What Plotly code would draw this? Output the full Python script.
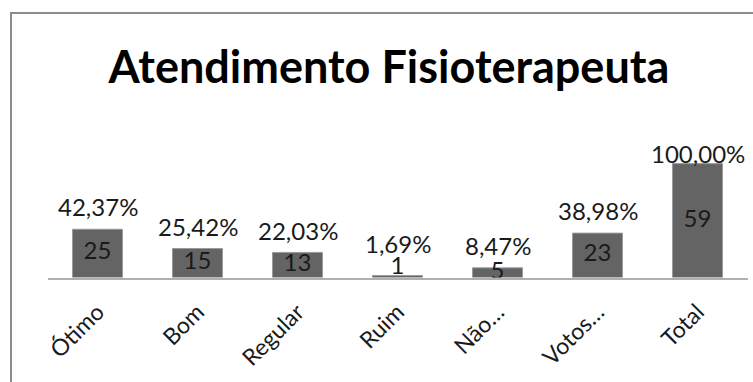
import plotly.graph_objects as go

# Survey results: "Atendimento Fisioterapeuta"
categorias = ["Ótimo", "Bom", "Regular", "Ruim", "Não…", "Votos…", "Total"]
votos = [25, 15, 13, 1, 5, 23, 59]
percentuais = ["42,37%", "25,42%", "22,03%", "1,69%", "8,47%", "38,98%", "100,00%"]

W, H = 753, 382
FONT = "Lato, 'Open Sans', sans-serif"
BAR_COLOR = "#646464"
Y_MAX = 81.6          # top of the value axis
LABEL_PAD = 3.0       # gap between a bar top and its percentage label (data units)
LABEL_CAP = 55.5      # highest position a percentage label may sit at
MIN_INSIDE = 3        # bars lower than this get their count drawn above the bar
COUNT_LIFT = 3.9      # centre of a count drawn above its bar (data units)
COUNT_BLOCK = 5.0     # room taken by a count drawn above its bar (data units)

# plot area in pixels (left, right, bottom, top)
PLOT_L, PLOT_R, PLOT_B, PLOT_T = 47.5, 747.5, 277.5, 120.0
# chart-area frame: left and top edges, in figure pixels
FRAME_X, FRAME_Y = 11, 13

fig = go.Figure()

# frame drawn on a full-figure pixel axis pair
fig.add_trace(go.Scatter(
    x=[FRAME_X, FRAME_X, W], y=[H, FRAME_Y, FRAME_Y],
    mode="lines", line=dict(color="#8c8c8c", width=2),
    xaxis="x2", yaxis="y2", hoverinfo="skip",
))

fig.add_trace(go.Bar(
    x=categorias,
    y=votos,
    marker=dict(color=BAR_COLOR, line=dict(color="#9a9a9a", width=1)),
    hoverinfo="x+y",
))

# vote counts: centred inside each bar, or just above a very short bar
inside = [v >= MIN_INSIDE for v in votos]
fig.add_trace(go.Scatter(
    x=categorias,
    y=[v / 2 if ok else v + COUNT_LIFT for v, ok in zip(votos, inside)],
    mode="text",
    text=[str(v) for v in votos],
    textposition="middle center",
    textfont=dict(family=FONT, size=24, color="#1a1a1a"),
    hoverinfo="skip",
))

# percentage labels above the bars (and above any count drawn outside)
for cat, v, pct, ok in zip(categorias, votos, percentuais, inside):
    base = v + LABEL_PAD + (0 if ok else COUNT_BLOCK)
    fig.add_annotation(
        x=cat, y=min(base, LABEL_CAP),
        text=pct, showarrow=False,
        xanchor="center", yanchor="bottom",
        font=dict(family=FONT, size=24, color="#1a1a1a"),
    )

fig.update_layout(
    width=W, height=H,
    margin=dict(l=0, r=0, t=0, b=0),
    paper_bgcolor="white", plot_bgcolor="rgba(0,0,0,0)",
    showlegend=False,
    bargap=0.5,
    title=dict(
        text="<b>Atendimento Fisioterapeuta</b>",
        x=0.5165, xanchor="center", y=0.825, yanchor="middle",
        font=dict(family=FONT, size=45, color="#000000"),
    ),
    xaxis=dict(
        domain=[PLOT_L / W, PLOT_R / W], anchor="y",
        showline=True, linecolor="#b0b0b0", linewidth=2,
        ticks="", tickangle=-45, ticklabelstandoff=10, automargin=False,
        tickfont=dict(family=FONT, size=23, color="#1a1a1a"),
        showgrid=False, zeroline=False,
    ),
    yaxis=dict(
        domain=[(H - PLOT_B) / H, (H - PLOT_T) / H], anchor="x",
        range=[0, Y_MAX], visible=False, showgrid=False, zeroline=False,
    ),
    xaxis2=dict(domain=[0, 1], range=[0, W], anchor="y2", visible=False,
                fixedrange=True),
    yaxis2=dict(domain=[0, 1], range=[H, 0], anchor="x2", visible=False,
                fixedrange=True),
)

fig.write_html("out.html", config={"displayModeBar": False})
